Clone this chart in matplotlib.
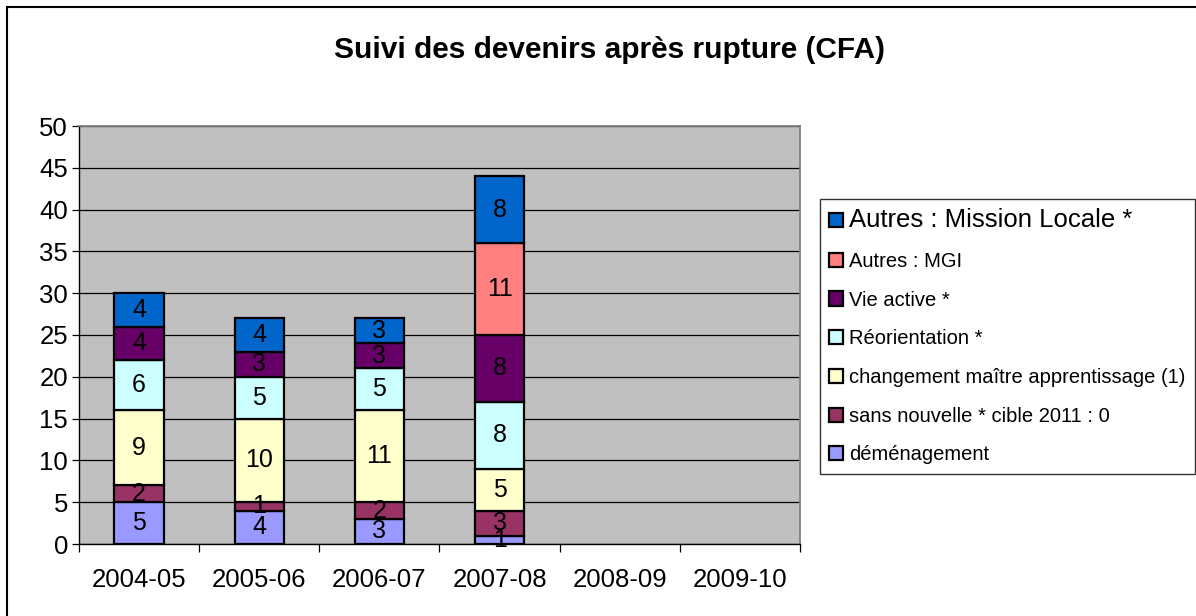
import matplotlib
matplotlib.use("Agg")
import matplotlib.pyplot as plt
from matplotlib.patches import Rectangle
import numpy as np

plt.rcParams['font.family'] = ['Liberation Sans', 'DejaVu Sans']

annees = ['2004-05', '2005-06', '2006-07', '2007-08', '2008-09', '2009-10']

demenagement = [5, 4, 3, 1, 0, 0]
sans_nouvelle = [2, 1, 2, 3, 0, 0]
changement_maitre = [9, 10, 11, 5, 0, 0]
reorientation = [6, 5, 5, 8, 0, 0]
vie_active = [4, 3, 3, 8, 0, 0]
autres_mgi = [0, 0, 0, 11, 0, 0]
mission_locale = [4, 4, 3, 8, 0, 0]

series = [
    ('déménagement', demenagement, '#9999FF'),
    ('sans nouvelle * cible 2011 : 0', sans_nouvelle, '#993366'),
    ('changement maître apprentissage (1)', changement_maitre, '#FFFFCC'),
    ('Réorientation *', reorientation, '#CCFFFF'),
    ('Vie active *', vie_active, '#660066'),
    ('Autres : MGI', autres_mgi, '#FF8080'),
    ('Autres : Mission Locale *', mission_locale, '#0066CC'),
]

fig = plt.figure(figsize=(11.96, 6.16), dpi=100)
ax = fig.add_axes([79 / 1196, 1 - 544 / 616, 721 / 1196, 418 / 616])
ax.set_facecolor('#C0C0C0')

x = np.arange(len(annees))
bas = np.zeros(len(annees))
for nom, valeurs, couleur in series:
    v = np.array(valeurs, dtype=float)
    hauteurs = np.where(v > 0, v, np.nan)
    barres = ax.bar(x, hauteurs, 0.41, bottom=bas, color=couleur, edgecolor='black',
                    linewidth=1.6, label=nom, zorder=3)
    etiquettes = [str(int(n)) if n > 0 else '' for n in v]
    ax.bar_label(barres, labels=etiquettes, label_type='center', fontsize=18,
                 color='black', zorder=4)
    bas += v

ax.set_xlim(-0.5, len(annees) - 0.5)
ax.set_ylim(0, 50)
ax.set_yticks(range(0, 51, 5))
ax.yaxis.grid(True, color='black', linewidth=0.9, zorder=1)
ax.set_axisbelow(True)

ax.set_xticks(x)
ax.set_xticklabels(annees, fontsize=18.5)
ax.set_xticks(np.arange(-0.5, len(annees), 1), minor=True)
ax.tick_params(axis='x', which='major', length=0, pad=17)
ax.tick_params(axis='x', which='minor', length=6, direction='out', width=0.9)
ax.tick_params(axis='y', labelsize=18.5, length=5, width=0.9, pad=3)

for cote in ['top', 'right']:
    ax.spines[cote].set_color('#808080')
    ax.spines[cote].set_linewidth(1.3)
for cote in ['left', 'bottom']:
    ax.spines[cote].set_color('black')
    ax.spines[cote].set_linewidth(1.0)

fig.text(609 / 1196, 1 - 50 / 616, 'Suivi des devenirs après rupture (CFA)',
         ha='center', va='center', fontsize=21.5, fontweight='bold')

poignees, noms = ax.get_legend_handles_labels()
leg = fig.legend(poignees[::-1], noms[::-1], loc='upper left',
                 bbox_to_anchor=(820 / 1196, 1 - 199 / 616), fontsize=14.5,
                 frameon=True, fancybox=False, edgecolor='black',
                 handlelength=0.7, handleheight=0.7, handletextpad=0.3,
                 labelspacing=0.98, borderpad=0.45, borderaxespad=0)
leg.get_frame().set_linewidth(1.0)
leg.get_texts()[0].set_fontsize(18.5)

fig.patches.append(Rectangle((7 / 1196, -0.1), 1.2, 1.1 - 7 / 616,
                             transform=fig.transFigure, fill=False,
                             edgecolor='black', linewidth=1.5))

fig.savefig('out.png', dpi=100)
